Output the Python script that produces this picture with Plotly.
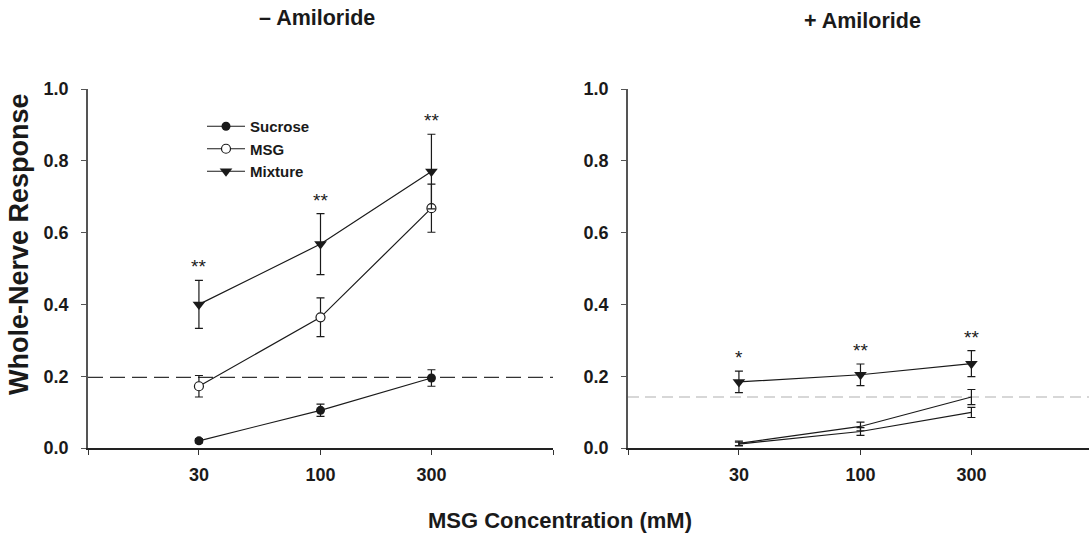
import math
import plotly.graph_objects as go

W, H = 1089, 534

conc = [30, 100, 300]
tick_vals = [10, 30, 100, 300, 1000]
tick_text = ["", "30", "100", "300", ""]

# – Amiloride
sucrose_neg = [0.020, 0.105, 0.195]
sucrose_neg_err = [0.006, 0.017, 0.023]
msg_neg = [0.172, 0.364, 0.668]
msg_neg_err = [0.030, 0.054, 0.067]
mix_neg = [0.400, 0.568, 0.770]
mix_neg_err = [0.067, 0.085, 0.104]
baseline_neg = 0.197
sig_neg = ["**", "**", "**"]

# + Amiloride
sucrose_pos = [0.013, 0.060, 0.142]
sucrose_pos_err = [0.006, 0.012, 0.021]
msg_pos = [0.011, 0.046, 0.099]
msg_pos_err = [0.005, 0.011, 0.014]
mix_pos = [0.184, 0.204, 0.235]
mix_pos_err = [0.030, 0.030, 0.036]
baseline_pos = 0.142
sig_pos = ["*", "**", "**"]

FONT = "Liberation Sans, Arial, Helvetica, sans-serif"
INK = "#1a1a1a"


def px(x):
    return x / W


def py(y):
    return 1 - y / H


def err(vals):
    return dict(type="data", array=vals, visible=True, color=INK,
                thickness=1.2, width=4)


fig = go.Figure()

# left panel
fig.add_trace(go.Scatter(
    x=conc, y=sucrose_neg, error_y=err(sucrose_neg_err), name="Sucrose",
    mode="lines+markers", line=dict(color=INK, width=1.2),
    marker=dict(symbol="circle", size=9, color=INK), xaxis="x", yaxis="y"))
fig.add_trace(go.Scatter(
    x=conc, y=msg_neg, error_y=err(msg_neg_err), name="MSG",
    mode="lines+markers", line=dict(color=INK, width=1.2),
    marker=dict(symbol="circle", size=9, color="white",
                line=dict(color=INK, width=1.2)), xaxis="x", yaxis="y"))
fig.add_trace(go.Scatter(
    x=conc, y=mix_neg, error_y=err(mix_neg_err), name="Mixture",
    mode="lines+markers", line=dict(color=INK, width=1.2),
    marker=dict(symbol="triangle-down", size=11, color=INK), xaxis="x", yaxis="y"))

# right panel
fig.add_trace(go.Scatter(
    x=conc, y=sucrose_pos, error_y=err(sucrose_pos_err), name="Sucrose",
    mode="lines", line=dict(color=INK, width=1.2), showlegend=False,
    xaxis="x2", yaxis="y2"))
fig.add_trace(go.Scatter(
    x=conc, y=msg_pos, error_y=err(msg_pos_err), name="MSG",
    mode="lines", line=dict(color=INK, width=1.2), showlegend=False,
    xaxis="x2", yaxis="y2"))
fig.add_trace(go.Scatter(
    x=conc, y=mix_pos, error_y=err(mix_pos_err), name="Mixture",
    mode="lines+markers", line=dict(color=INK, width=1.2), showlegend=False,
    marker=dict(symbol="triangle-down", size=11, color=INK),
    xaxis="x2", yaxis="y2"))

for tr in fig.data:
    tr.cliponaxis = False

# baselines
fig.add_shape(type="line", xref="x domain", yref="y", x0=0, x1=1,
              y0=baseline_neg, y1=baseline_neg,
              line=dict(color="#333333", width=1.2, dash="15px,7px"), layer="below")
fig.add_shape(type="line", xref="x2 domain", yref="y2", x0=0, x1=1,
              y0=baseline_pos, y1=baseline_pos,
              line=dict(color="#b0b0b0", width=1.1, dash="11px,6px"), layer="below")

# significance marks above the mixture error bars (log axis -> log10 x)
for xa, ya, ys, es, marks in [("x", "y", mix_neg, mix_neg_err, sig_neg),
                              ("x2", "y2", mix_pos, mix_pos_err, sig_pos)]:
    for c, v, e, m in zip(conc, ys, es, marks):
        fig.add_annotation(x=math.log10(c), y=v + e, xref=xa, yref=ya, text=m,
                           showarrow=False, xanchor="center", yanchor="bottom",
                           yshift=1, font=dict(family=FONT, size=19, color=INK))

axis_font = dict(family=FONT, size=18, color=INK, weight="bold")

xcommon = dict(type="log", tickvals=tick_vals, ticktext=tick_text,
               ticks="outside", ticklen=5, tickwidth=1, tickcolor="#333",
               showline=True, linecolor="#222", linewidth=1.5,
               showgrid=False, zeroline=False, tickfont=axis_font,
               ticklabelstandoff=5, automargin=False)
ycommon = dict(range=[0, 1], tickvals=[0, 0.2, 0.4, 0.6, 0.8, 1.0],
               tickformat=".1f", ticks="outside", ticklen=5, tickwidth=1,
               tickcolor="#555", showline=True, linecolor="#555",
               linewidth=1.5, showgrid=False, zeroline=False,
               tickfont=axis_font, ticklabelstandoff=9, automargin=False)

fig.update_layout(
    width=W, height=H,
    margin=dict(l=0, r=0, t=0, b=0, autoexpand=False),
    paper_bgcolor="white", plot_bgcolor="white",
    xaxis=dict(xcommon, domain=[px(88), px(553)], range=[1, 3], anchor="y"),
    yaxis=dict(ycommon, domain=[py(448), py(89)], anchor="x"),
    xaxis2=dict(xcommon, domain=[px(628), 1], range=[1, 2.983], anchor="y2"),
    yaxis2=dict(ycommon, domain=[py(448), py(89)], anchor="x2"),
    showlegend=True,
    legend=dict(x=px(202), y=py(110), xanchor="left", yanchor="top",
                bgcolor="rgba(0,0,0,0)", itemwidth=38, tracegroupgap=0,
                font=dict(family=FONT, size=15, color=INK, weight="bold")),
)

# panel headings and shared axis titles
title_font = dict(family=FONT, size=21.5, color=INK, weight="bold")
fig.add_annotation(x=px(317), y=py(18), xref="paper", yref="paper",
                   xanchor="center", yanchor="middle",
                   text="– Amiloride", showarrow=False, font=title_font)
fig.add_annotation(x=px(862), y=py(21), xref="paper", yref="paper",
                   xanchor="center", yanchor="middle",
                   text="+ Amiloride", showarrow=False, font=title_font)
fig.add_annotation(x=px(560), y=py(520), xref="paper", yref="paper",
                   xanchor="center", yanchor="middle",
                   text="MSG Concentration (mM)", showarrow=False,
                   font=dict(family=FONT, size=22, color=INK, weight="bold"))
fig.add_annotation(x=px(19), y=py(244), xref="paper", yref="paper",
                   xanchor="center", yanchor="middle",
                   text="Whole-Nerve Response", showarrow=False, textangle=-90,
                   font=dict(family=FONT, size=27, color=INK, weight="bold"))

fig.write_html("out.html")
